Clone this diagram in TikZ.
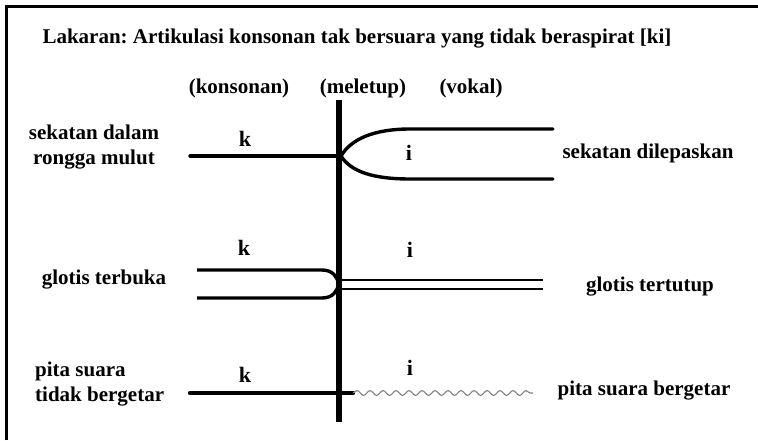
\documentclass[tikz,border=0pt]{standalone}
\usepackage{fontspec}
\setmainfont{Liberation Serif}
\usetikzlibrary{positioning,calc,decorations.pathmorphing}
\frenchspacing
\tikzset{
	x=1pt, y=-1pt,
	lbl/.style = {font=\fontsize{21}{25}\selectfont\bfseries, inner sep=0pt, align=center}, % labels of the rows
	snd/.style = {font=\fontsize{22}{26}\selectfont\bfseries, inner sep=0pt}, % the sounds k and i
	frame line/.style = {line width=3pt},
	stop line/.style = {line width=3.4pt, line cap=round}
}
\begin{document}
\begin{tikzpicture}
            \useasboundingbox (0,0) rectangle (758,440);
            \tikzset{thin line/.style = {line width=2.4pt}}
            \tikzset{wave line/.style = {gray, line width=1.1pt, decorate, decoration={snake, segment length=13pt, amplitude=2.4pt}}}
            % frame
            \coordinate (f0) at (6,440);
            \coordinate (f1) at (6,6);
            \coordinate (f2) at (758,6);
            \draw[frame line] (f0) -- (f1) -- (f2);
            % headings
            \node[lbl] (title) at (357,39) {Lakaran: Artikulasi konsonan tak bersuara yang tidak beraspirat [ki]};
            \node[lbl] (kons) at (239,88) {(konsonan)};
            \node[lbl] (mele) at (363,88) {(meletup)};
            \node[lbl] (voka) at (471,88) {(vokal)};
            % release line
            \coordinate (vtop) at (339,100);
            \coordinate (vbot) at (339,422);
            \draw[line width=5.5pt] (vtop) -- (vbot);
            % row 1
            \node[lbl] (mulut) at (94,147) {sekatan dalam\\rongga mulut};
            \node[lbl] (lepas) at (648,153) {sekatan dilepaskan};
            \node[snd] (k1) at (245,139) {k};
            \node[snd] (i1) at (409,153) {i};
            \coordinate (a1) at (190,156);
            \coordinate (a2) at (341,156);
            \coordinate (a3) at (553,129);
            \coordinate (a4) at (553,179);
            \draw[stop line] (a1) -- (a2);
            \draw[stop line] (a3) -- (410,129) .. controls (374,129) and (351,139) .. (a2)
                .. controls (351,172) and (374,179) .. (410,179) -- (a4);
            % row 2
            \node[lbl] (buka) at (104,280) {glotis terbuka};
            \node[lbl] (tutup) at (650,287) {glotis tertutup};
            \node[snd] (k2) at (244,248) {k};
            \node[snd] (i2) at (410,250) {i};
            \coordinate (b1) at (197,270);
            \coordinate (b2) at (197,298);
            \coordinate (b3) at (339,284);
            \coordinate (b4) at (543,280);
            \coordinate (b5) at (543,289);
            \draw[stop line,line cap=butt] (b1) -- (322,270) .. controls (333,270) and (337,277) .. (b3);
            \draw[stop line,line cap=butt] (b2) -- (322,298) .. controls (333,298) and (337,291) .. (b3);
            \draw[thin line] (339,280) -- (b4);
            \draw[thin line] (339,289) -- (b5);
            % row 3
            \node[lbl,align=left,anchor=west] (pita) at (35,384) {pita suara\\tidak bergetar};
            \node[lbl] (getar) at (644,391) {pita suara bergetar};
            \node[snd] (k3) at (245,375) {k};
            \node[snd] (i3) at (410,368) {i};
            \coordinate (c1) at (190,393);
            \coordinate (c2) at (353,393);
            \coordinate (c3) at (533,393);
            \draw[line width=4.4pt, line cap=round] (c1) -- (c2);
            \draw[wave line] (c2) -- (c3);
        \end{tikzpicture}
\end{document}
